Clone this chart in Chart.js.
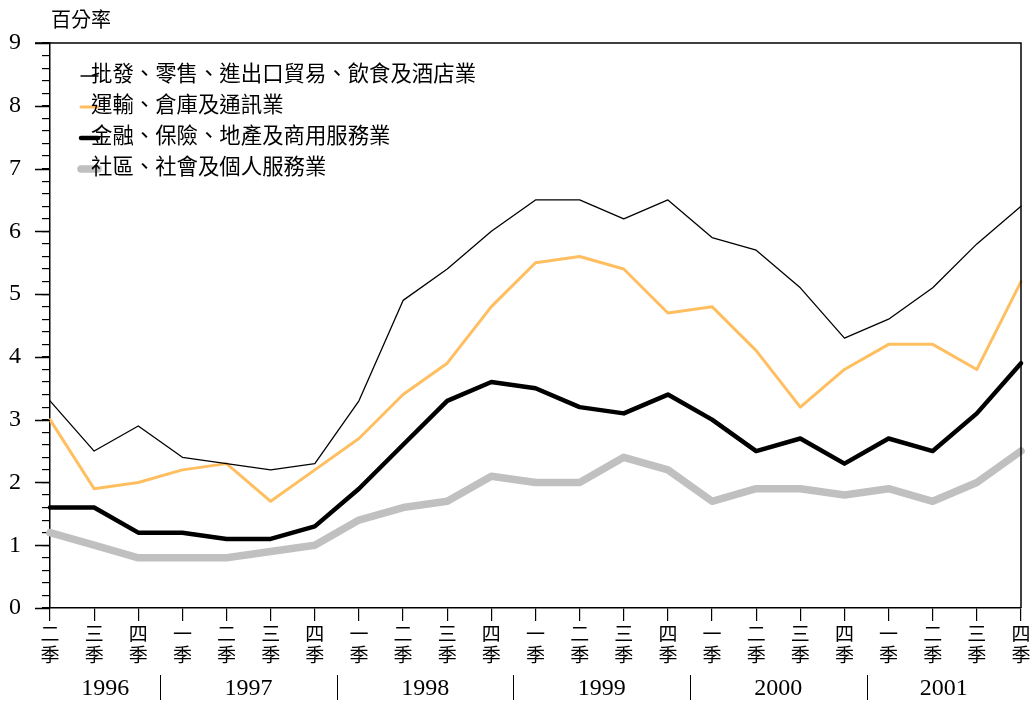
<!DOCTYPE html>
<html>
<head>
<meta charset="utf-8">
<script src="https://cdn.jsdelivr.net/npm/chart.js@4/dist/chart.umd.min.js"></script>
<style>
  html, body { margin: 0; padding: 0; background: #fff; }
  #wrap { width: 1036px; height: 704px; }
</style>
</head>
<body>
<div id="wrap"><canvas id="myChart" width="1036" height="704"></canvas></div>
<script>
// quarters, 1996 Q2 .. 2001 Q4
var quarters = ["二","三","四",
                "一","二","三","四",
                "一","二","三","四",
                "一","二","三","四",
                "一","二","三","四",
                "一","二","三","四"];
var years = ["1996", "1997", "1998", "1999", "2000", "2001"];
var quartersPerYear = [3, 4, 4, 4, 4, 4];

var seriesNames = [
    "批發、零售、進出口貿易、飲食及酒店業",
    "運輸、倉庫及通訊業",
    "金融、保險、地產及商用服務業",
    "社區、社會及個人服務業"
];

var trade     = [3.3, 2.5, 2.9, 2.4, 2.3, 2.2, 2.3, 3.3, 4.9, 5.4, 6.0, 6.5, 6.5, 6.2, 6.5, 5.9, 5.7, 5.1, 4.3, 4.6, 5.1, 5.8, 6.4];
var transport = [3.0, 1.9, 2.0, 2.2, 2.3, 1.7, 2.2, 2.7, 3.4, 3.9, 4.8, 5.5, 5.6, 5.4, 4.7, 4.8, 4.1, 3.2, 3.8, 4.2, 4.2, 3.8, 5.2];
var finance   = [1.6, 1.6, 1.2, 1.2, 1.1, 1.1, 1.3, 1.9, 2.6, 3.3, 3.6, 3.5, 3.2, 3.1, 3.4, 3.0, 2.5, 2.7, 2.3, 2.7, 2.5, 3.1, 3.9];
var community = [1.2, 1.0, 0.8, 0.8, 0.8, 0.9, 1.0, 1.4, 1.6, 1.7, 2.1, 2.0, 2.0, 2.4, 2.2, 1.7, 1.9, 1.9, 1.8, 1.9, 1.7, 2.0, 2.5];

var yMin = 0, yMax = 9;

var cjk = '"Noto Sans CJK TC", "Noto Sans CJK SC", sans-serif';
var serif = '"Liberation Serif", "DejaVu Serif", serif';

var labels = quarters.map(function(q) { return [q, "季"]; });

function line(label, values, color, width) {
    return {
        label: label,
        data: values,
        borderColor: color,
        backgroundColor: color,
        borderWidth: width,
        pointRadius: 0,
        tension: 0,
        fill: false,
        clip: false,
        borderJoinStyle: 'round',
        borderCapStyle: 'round'
    };
}

// frame, long ticks, legend, year row and unit label
var extras = {
    id: 'extras',
    afterDraw: function(chart) {
        var c = chart.ctx;
        var area = chart.chartArea;
        var xs = chart.scales.x, ys = chart.scales.y;
        c.save();
        c.strokeStyle = '#000';
        c.lineWidth = 1.5;

        // top and right edges of the frame
        c.beginPath();
        c.moveTo(area.left - 15, area.top);
        c.lineTo(area.right, area.top);
        c.lineTo(area.right, area.bottom);
        c.stroke();

        // long ticks on whole numbers
        c.beginPath();
        for (var v = yMin; v <= yMax; v++) {
            var py = Math.round(ys.getPixelForValue(v)) + 0.5;
            c.moveTo(area.left - 15, py);
            c.lineTo(area.left, py);
        }
        c.stroke();

        // unit
        c.fillStyle = '#000';
        c.font = '20px ' + cjk;
        c.textAlign = 'left';
        c.textBaseline = 'middle';
        c.fillText("百分率", 51, 19);

        // year row with separators between Q4 and Q1
        c.font = '24px ' + serif;
        c.textAlign = 'center';
        c.lineWidth = 1;
        var idx = 0;
        for (var i = 0; i < years.length; i++) {
            var first = idx, last = idx + quartersPerYear[i] - 1;
            var left = i === 0 ? area.left :
                (xs.getPixelForValue(first - 1) + xs.getPixelForValue(first)) / 2;
            var right = i === years.length - 1 ? area.right :
                (xs.getPixelForValue(last) + xs.getPixelForValue(last + 1)) / 2;
            c.fillText(years[i], (left + right) / 2, 689);
            if (i > 0) {
                c.beginPath();
                c.moveTo(Math.round(left) + 0.5, 675);
                c.lineTo(Math.round(left) + 0.5, 700);
                c.stroke();
            }
            idx = last + 1;
        }

        // legend
        c.font = '21.4px ' + cjk;
        c.textAlign = 'left';
        chart.data.datasets.forEach(function(ds, k) {
            var ty = 73 + k * 31;
            c.beginPath();
            c.strokeStyle = ds.borderColor;
            c.lineWidth = ds.borderWidth;
            c.lineCap = 'round';
            c.moveTo(81, ty + 3);
            c.lineTo(98, ty + 3);
            c.stroke();
            c.fillStyle = '#000';
            c.fillText(ds.label, 91, ty);
        });
        c.restore();
    }
};

var ctx = document.getElementById("myChart");
var myChart = new Chart(ctx, {
    type: 'line',
    data: {
        labels: labels,
        datasets: [
            line(seriesNames[0], trade, '#000000', 1.3),
            line(seriesNames[1], transport, '#FFBF60', 3),
            line(seriesNames[2], finance, '#000000', 4.5),
            line(seriesNames[3], community, '#C0C0C0', 7.5)
        ]
    },
    options: {
        responsive: false,
        animation: false,
        layout: { padding: { top: 43, right: 15, left: 0, bottom: 0 } },
        plugins: {
            legend: { display: false },
            tooltip: { enabled: false },
            title: { display: false }
        },
        scales: {
            x: {
                offset: false,
                grid: { drawOnChartArea: false, drawTicks: true, tickLength: 13, color: '#000', lineWidth: 1.2 },
                border: { display: true, color: '#000', width: 1.5 },
                ticks: {
                    autoSkip: false,
                    maxRotation: 0,
                    color: '#000',
                    padding: 2,
                    font: { family: cjk, size: 19, lineHeight: 1.1 }
                },
                afterFit: function(scale) { scale.height = 96; }
            },
            y: {
                min: yMin,
                max: yMax,
                grid: { drawOnChartArea: false, drawTicks: true, tickLength: 8, color: '#000', lineWidth: 1.2 },
                border: { display: true, color: '#000', width: 1.5 },
                ticks: {
                    stepSize: 0.2,
                    maxTicksLimit: 100,
                    autoSkip: false,
                    color: '#000',
                    padding: 21,
                    font: { family: serif, size: 24 },
                    callback: function(v) {
                        return Math.abs(v - Math.round(v)) < 1e-6 ? String(Math.round(v)) : '';
                    }
                },
                afterFit: function(scale) { scale.width = 50; }
            }
        }
    },
    plugins: [extras]
});
</script>
</body>
</html>
